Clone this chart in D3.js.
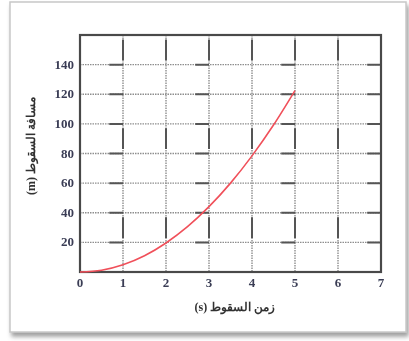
<!DOCTYPE html>
<html lang="ar">
<head>
<meta charset="UTF-8">
<title>Free fall distance</title>
<script src="https://d3js.org/d3.v7.min.js"></script>
<style>
  body { margin: 0; background: #fff; }
  text { font-family: "Liberation Serif", "DejaVu Serif", serif; }
</style>
</head>
<body>
<svg id="chart" width="409" height="341"></svg>
<script>
// time (s) and distance fallen (m)
const times     = [0, 0.5, 1, 1.5, 2, 2.5, 3, 3.5, 4, 4.5, 5];
const distances = [0, 1.2, 4.9, 11, 19.6, 30.6, 44.1, 60, 78.4, 99.2, 122.5];
const xTicks = [0, 1, 2, 3, 4, 5, 6, 7];
const yTicks = [20, 40, 60, 80, 100, 120, 140];
const xTitle = "زمن السقوط (s)";
const yTitle = "مسافة السقوط (m)";

const svg = d3.select("#chart");

// card frame with shadow
const defs = svg.append("defs");
const sh = defs.append("filter").attr("id", "shadow")
    .attr("x", "-5%").attr("y", "-5%").attr("width", "115%").attr("height", "115%");
sh.append("feDropShadow").attr("dx", 2).attr("dy", 4).attr("stdDeviation", 2)
    .attr("flood-color", "#777").attr("flood-opacity", 0.7);
defs.append("filter").attr("id", "soft")
    .append("feGaussianBlur").attr("stdDeviation", 0.35);

svg.append("rect")
    .attr("x", 10).attr("y", 2).attr("width", 396).attr("height", 330)
    .attr("fill", "#fff").attr("stroke", "#c8c8c8").attr("stroke-width", 1.5)
    .attr("filter", "url(#shadow)");

const margin = {left: 80, top: 35, right: 28, bottom: 69};
const width = 409 - margin.left - margin.right;
const height = 341 - margin.top - margin.bottom;

const g = svg.append("g")
    .attr("transform", `translate(${margin.left},${margin.top})`)
    .attr("filter", "url(#soft)");

const x = d3.scaleLinear().domain([0, 7]).range([0, width]);
const y = d3.scaleLinear().domain([0, 160]).range([height, 0]);

// dotted grid
g.selectAll(".vgrid").data(xTicks.slice(1, -1)).enter().append("line")
    .attr("x1", d => x(d)).attr("x2", d => x(d))
    .attr("y1", 0).attr("y2", height)
    .attr("stroke", "#8e8e8e").attr("stroke-width", 1.4)
    .attr("stroke-dasharray", "1.5,1");
g.selectAll(".hgrid").data(yTicks).enter().append("line")
    .attr("x1", 0).attr("x2", width)
    .attr("y1", d => y(d)).attr("y2", d => y(d))
    .attr("stroke", "#8e8e8e").attr("stroke-width", 1.4)
    .attr("stroke-dasharray", "1.5,1");

// darker solid pieces of the printed grid
const unit = x(1) - x(0);
const row = y(0) - y(20);
g.selectAll(".hdark").data(yTicks).enter().append("line")
    .attr("x1", 0).attr("x2", width)
    .attr("y1", d => y(d)).attr("y2", d => y(d))
    .attr("stroke", "#555").attr("stroke-width", 2)
    .attr("stroke-dasharray", `${unit * 0.32},${unit * 1.68}`)
    .attr("stroke-dashoffset", -unit * 0.68);
g.selectAll(".vdark").data(xTicks.slice(1, -1)).enter().append("line")
    .attr("x1", d => x(d)).attr("x2", d => x(d))
    .attr("y1", 0).attr("y2", height)
    .attr("stroke", "#555").attr("stroke-width", 2)
    .attr("stroke-dasharray", `${row * 0.7},${row * 2.3}`)
    .attr("stroke-dashoffset", -row * 0.15);

// frame
g.append("rect")
    .attr("x", 0).attr("y", 0).attr("width", width).attr("height", height)
    .attr("fill", "none").attr("stroke", "#4a4a4a").attr("stroke-width", 2.2);

// curve
const line = d3.line()
    .x((d, i) => x(times[i]))
    .y(d => y(d))
    .curve(d3.curveMonotoneX);
g.append("path")
    .datum(distances)
    .attr("d", line)
    .attr("fill", "none")
    .attr("stroke", "#f0505a")
    .attr("stroke-width", 1.6);

// tick labels
g.selectAll(".xt").data(xTicks).enter().append("text")
    .attr("x", d => x(d)).attr("y", height + 15)
    .attr("text-anchor", "middle")
    .attr("font-size", 13).attr("font-weight", "bold").attr("fill", "#3a3d55")
    .text(d => d);
g.selectAll(".yt").data(yTicks).enter().append("text")
    .attr("x", -6).attr("y", d => y(d) + 4)
    .attr("text-anchor", "end")
    .attr("font-size", 13).attr("font-weight", "bold").attr("fill", "#3a3d55")
    .text(d => d);

// axis titles
g.append("text")
    .attr("x", x(3.6)).attr("y", height + 39)
    .attr("text-anchor", "middle").attr("direction", "rtl")
    .attr("font-size", 12).attr("font-weight", "bold").attr("fill", "#333")
    .text(xTitle);
g.append("text")
    .attr("transform", `translate(-45,${y(85)}) rotate(-90)`)
    .attr("text-anchor", "middle").attr("direction", "rtl")
    .attr("font-size", 12).attr("font-weight", "bold").attr("fill", "#333")
    .text(yTitle);
</script>
</body>
</html>
